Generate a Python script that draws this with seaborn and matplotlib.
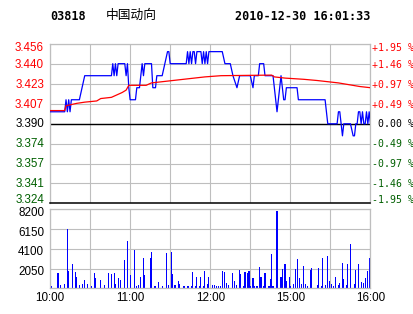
import numpy as np
import pandas as pd
import matplotlib
matplotlib.use("Agg")
import matplotlib.pyplot as plt
import seaborn as sns

# ---------------- data ----------------
stock_code = "03818"
stock_name = "中国动向"
stamp = "2010-12-30 16:01:33"
prev_close = 3.390

# minute index (0 = 10:00, 240 = 16:00, lunch break removed)
price_min = [0, 11, 12, 13, 14, 15, 16, 22, 24, 26, 46, 47, 48, 49, 50, 51, 56, 57, 58, 59,
             60, 64, 65, 67, 68, 69, 70, 71, 76, 77, 79, 80, 84, 86, 88, 89, 90, 102, 103, 104,
             105, 106, 107, 108, 109, 110, 113, 114, 115, 116, 117, 118, 119, 129, 131, 135, 137,
             140, 142, 150, 152, 153, 156, 157, 160, 161, 167, 168, 169, 170, 171, 172, 173, 174,
             175, 176, 177, 185, 186, 206, 207, 208, 215, 216, 217, 218, 219, 220, 225, 227, 228,
             229, 230, 231, 232, 233, 234, 235, 236, 237, 238, 239, 240]
price_val = [3.40, 3.40, 3.41, 3.40, 3.41, 3.40, 3.41, 3.41, 3.42, 3.43, 3.43, 3.44, 3.43, 3.44,
             3.43, 3.44, 3.44, 3.43, 3.44, 3.42, 3.41, 3.41, 3.42, 3.42, 3.43, 3.44, 3.43, 3.44,
             3.44, 3.42, 3.42, 3.43, 3.43, 3.44, 3.45, 3.45, 3.44, 3.44, 3.45, 3.44, 3.45, 3.44,
             3.45, 3.45, 3.44, 3.45, 3.45, 3.44, 3.45, 3.44, 3.45, 3.44, 3.45, 3.45, 3.44, 3.44,
             3.43, 3.42, 3.43, 3.43, 3.42, 3.43, 3.43, 3.44, 3.44, 3.43, 3.43, 3.42, 3.41, 3.40,
             3.41, 3.42, 3.43, 3.42, 3.41, 3.41, 3.42, 3.42, 3.41, 3.41, 3.40, 3.39, 3.39, 3.40,
             3.40, 3.39, 3.38, 3.39, 3.39, 3.38, 3.38, 3.39, 3.39, 3.40, 3.40, 3.39, 3.40, 3.39,
             3.39, 3.40, 3.39, 3.40, 3.39]

avg_min = [0, 11, 12, 20, 26, 35, 38, 46, 50, 54, 57, 59, 72, 76, 84, 92, 100, 108, 116, 128,
           166, 168, 176, 190, 200, 208, 216, 224, 232, 240]
avg_val = [3.401, 3.401, 3.405, 3.407, 3.408, 3.409, 3.411, 3.412, 3.414, 3.416, 3.418, 3.422,
           3.422, 3.424, 3.425, 3.426, 3.427, 3.428, 3.429, 3.430, 3.4305, 3.429, 3.428, 3.427,
           3.426, 3.425, 3.424, 3.4225, 3.421, 3.420]

vol_min = [0, 1, 6, 8, 11, 13, 14, 17, 19, 20, 22, 24, 26, 28, 31, 33, 34, 38, 41, 44, 46, 48,
           49, 51, 53, 56, 58, 60, 63, 65, 66, 68, 70, 71, 75, 76, 78, 79, 81, 84, 87, 89, 91,
           92, 93, 94, 96, 97, 100, 101, 103, 104, 106, 107, 109, 110, 112, 113, 115, 116, 118,
           119, 122, 123, 125, 126, 128, 129, 131, 132, 134, 137, 138, 140, 142, 143, 145, 146,
           148, 149, 150, 152, 153, 155, 157, 158, 160, 161, 164, 165, 166, 167, 170, 173, 174,
           176, 177, 179, 180, 182, 184, 185, 187, 188, 190, 191, 193, 195, 196, 200, 201, 203,
           204, 206, 208, 209, 211, 212, 214, 216, 217, 219, 220, 222, 223, 225, 228, 229, 231,
           233, 235, 236, 238, 239, 240]
vol_val = [1107, 240, 1590, 346, 450, 6160, 1800, 2525, 1695, 1176, 346, 450, 865, 450, 240, 1590,
           1070, 865, 346, 1590, 1490, 1590, 450, 1070, 865, 2940, 4910, 1384, 3980, 240, 346,
           1176, 3150, 1384, 3150, 3770, 240, 240, 657, 240, 3670, 346, 3770, 1490, 346, 346, 760,
           450, 240, 240, 240, 240, 240, 1695, 240, 1176, 240, 1176, 240, 1800, 450, 1176, 346,
           346, 240, 240, 240, 1800, 1695, 553, 346, 1590, 760, 346, 1900, 1490, 240, 1695, 1590,
           1800, 240, 1070, 240, 240, 2215, 1176, 240, 1590, 240, 970, 3560, 240, 8030, 1176,
           2005, 2525, 760, 1176, 240, 450, 2005, 3045, 1070, 450, 2320, 450, 240, 1900, 2110,
           346, 2110, 240, 3150, 346, 3360, 760, 450, 240, 1176, 346, 553, 2630, 970, 346, 2525,
           4600, 450, 1900, 2525, 657, 553, 1070, 1800, 3150, 346]

price_labels = ["3.456", "3.440", "3.423", "3.407", "3.390", "3.374", "3.357", "3.341", "3.324"]
pct_labels = ["+1.95 %", "+1.46 %", "+0.97 %", "+0.49 %", " 0.00 %",
              "-0.49 %", "-0.97 %", "-1.46 %", "-1.95 %"]
vol_ticks = [2050, 4100, 6150, 8200]
vol_labels = ["2050", "4100", "6150", "8200"]
time_ticks = [0, 60, 120, 180, 240]
time_labels = ["10:00", "11:00", "12:00", "15:00", "16:00"]

# ---------------- style ----------------
RED = "#FF0000"
GREEN = "#005F00"
BLUE = "#0000FF"
GRID = "#BEBEBE"

sns.set_theme(style="white")
plt.rcParams["font.family"] = ["Liberation Sans", "DejaVu Sans"]

W, H = 414, 314
fig = plt.figure(figsize=(W / 100, H / 100), dpi=100)
fig.patch.set_facecolor("white")


def rect(l, t, r, b):
    return [l / W, 1 - b / H, (r - l) / W, (b - t) / H]


ax = fig.add_axes(rect(50, 44.3, 370.5, 203.3))
axv = fig.add_axes(rect(50, 209.3, 370.5, 288.3))

hi = prev_close * 1.0195
lo = prev_close * (1 - 0.0195)
yt = np.linspace(hi, lo, 9)

# ---------------- panels ----------------
for a in (ax, axv):
    a.set_facecolor("white")
    a.set_xlim(0, 240)
    a.set_xticks(np.arange(0, 241, 30))
    a.grid(True, color=GRID, lw=0.8)
    a.set_axisbelow(True)
    for s in a.spines.values():
        s.set_color(GRID)
        s.set_linewidth(0.9)
    a.tick_params(length=0)

ax.set_ylim(lo, hi)
ax.set_yticks(yt)
ax.set_yticklabels([])
ax.set_xticklabels([])
ax.spines["bottom"].set_color("black")
ax.spines["bottom"].set_linewidth(1.1)
ax.axhline(prev_close, color="black", lw=1.0, zorder=2)

sns.lineplot(x=price_min, y=price_val, ax=ax, color=BLUE, lw=0.9, zorder=3)
sns.lineplot(x=avg_min, y=avg_val, ax=ax, color=RED, lw=0.9, zorder=4)
ax.set_xlabel("")
ax.set_ylabel("")

ytrans = ax.get_yaxis_transform()
n = len(price_labels)
for i, (v, lab, pl) in enumerate(zip(yt, price_labels, pct_labels)):
    col = RED if i < 4 else ("black" if i == 4 else GREEN)
    dy = 0.7  # pixels, positive = downward
    if i == 0:
        dy = 3.6
    elif i == n - 1:
        dy = -3.6
    dy_pt = -dy * 0.72
    ax.annotate(lab, xy=(0, v), xycoords=ytrans, xytext=(-4.3, dy_pt), textcoords="offset points",
                ha="right", va="center", color=col, fontsize=8.4)
    ax.annotate(pl, xy=(1, v), xycoords=ytrans, xytext=(0.8, dy_pt), textcoords="offset points",
                ha="left", va="center", color=col, fontsize=7.1, family="DejaVu Sans Mono",
                annotation_clip=False)

# ---------------- volume panel ----------------
vdf = pd.DataFrame({"minute": vol_min, "volume": vol_val})
sns.barplot(data=vdf, x="minute", y="volume", native_scale=True, color=BLUE, saturation=1,
            errorbar=None, width=0.8, linewidth=0, antialiased=False, ax=axv)
axv.set_xlim(0, 240)
axv.set_ylim(0, 8200)
axv.set_yticks([0] + vol_ticks)
axv.set_yticklabels([])
axv.set_xlabel("")
axv.set_ylabel("")
axv.set_xticks(np.arange(0, 241, 30))
axv.set_xticklabels([])
vtrans = axv.get_yaxis_transform()
for v, lab in zip(vol_ticks, vol_labels):
    axv.annotate(lab, xy=(0, v), xycoords=vtrans, xytext=(-4.3, -3.6 * 0.72), textcoords="offset points",
                 ha="right", va="center", color="black", fontsize=8.4)
xtrans = axv.get_xaxis_transform()
for t, lab in zip(time_ticks, time_labels):
    axv.annotate(lab, xy=(t, 0), xycoords=xtrans, xytext=(0, -10 * 0.72), textcoords="offset points",
                 ha="center", va="center", color="black", fontsize=8.4, annotation_clip=False)

# ---------------- header ----------------
fig.text(50 / W, 1 - 16.7 / H, stock_code, ha="left", va="center", fontsize=8.5,
         family="DejaVu Sans Mono", fontweight="bold", color="black")
fig.text(106 / W, 1 - 15.5 / H, stock_name, ha="left", va="center", fontsize=9.2,
         family=["Noto Sans CJK SC", "DejaVu Sans"], color="black")
fig.text(370 / W, 1 - 16.7 / H, stamp, ha="right", va="center", fontsize=8.5,
         family="DejaVu Sans Mono", fontweight="bold", color="black")

fig.savefig("out.png", dpi=100, facecolor="white")
